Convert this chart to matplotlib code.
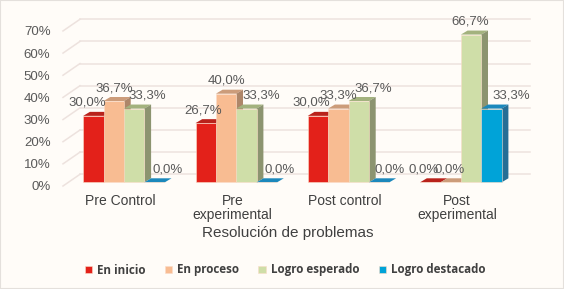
import numpy as np
import matplotlib
matplotlib.use('Agg')
import matplotlib.pyplot as plt
from matplotlib.patches import Polygon, Rectangle
from matplotlib.transforms import ScaledTranslation

categories = ['Pre Control', 'Pre\nexperimental', 'Post control', 'Post\nexperimental']
en_inicio = [30.0, 26.7, 30.0, 0.0]
en_proceso = [36.7, 40.0, 33.3, 0.0]
logro_esperado = [33.3, 33.3, 36.7, 66.7]
logro_destacado = [0.0, 0.0, 0.0, 33.3]
series_names = ['En inicio', 'En proceso', 'Logro esperado', 'Logro destacado']
y_ticks = [0, 10, 20, 30, 40, 50, 60, 70]

# front, top, side colours per series
front_cols = ['#E3211A', '#F8BC92', '#CFDEA8', '#00A3D8']
top_cols = ['#B9221B', '#CC9C7A', '#A3B27E', '#1B88BC']
side_cols = ['#A81F19', '#AE8669', '#8C9470', '#256E96']

# label nudges in pixels (dx from bar centre), per group and series
nudge_x = [[-6.5, 0, 13, 12.7],
           [-2.5, 0, 15, 13],
           [-7, 0, 14, 10],
           [-6.8, -1, -1, 19.5]]

W, H = 564, 289
TXT = '#595959'
plt.rcParams['font.family'] = ['Liberation Sans', 'DejaVu Sans']

fig = plt.figure(figsize=(W / 100, H / 100), dpi=100, facecolor='#FFFCF8')
fig.add_artist(Rectangle((0, 0), 1, 1, transform=fig.transFigure, fill=False,
                         edgecolor='#E4E0DC', linewidth=1.5))

# axes box: 0% front of the bars at y=182.3px, 70% 155px higher
left, right, bottom, top = 63, 530, 182.3, 27.25
ax = fig.add_axes([left / W, 1 - bottom / H, (right - left) / W, (bottom - top) / H])
ax.patch.set_alpha(0)
step = 112.3
x0, x1 = (left - 124) / step, (right - 124) / step
ax.set_xlim(x0, x1)
ax.set_ylim(0, 70)
px = 1 / step
py = 70 / (bottom - top)

# back wall and the side diagonals
for t in y_ticks:
    yb = t + 8 * py
    ax.plot([x0 + 17 * px, x1], [yb, yb], color='#EDE2DE', lw=1.1, zorder=1, clip_on=False)
    ax.plot([x0, x0 + 17 * px], [t - 3.7 * py, yb], color='#EDE2DE', lw=1.1, zorder=1,
            clip_on=False)

x = np.arange(len(categories))
w = 20.4 * px
dx = 6.7 * px
dy = 4 * py
all_series = [en_inicio, en_proceso, logro_esperado, logro_destacado]

handles = []
for s, vals in enumerate(all_series):
    xs = x + (s - 1.5) * w
    z = 3 + s
    bars = ax.bar(xs, vals, w, color=front_cols[s], zorder=z + 0.5, clip_on=False,
                  label=series_names[s], edgecolor='#FBDCC8', linewidth=0.4)
    handles.append(bars)
    for g, (xc, v) in enumerate(zip(xs, vals)):
        l, r = xc - w / 2, xc + w / 2
        ax.add_patch(Polygon([(l, v), (l + dx, v + dy), (r + dx, v + dy), (r, v)],
                             closed=True, fc=top_cols[s], ec='none', zorder=z, clip_on=False))
        ax.add_patch(Polygon([(r, 0), (r + dx, dy), (r + dx, v + dy), (r, v)],
                             closed=True, fc=side_cols[s], ec='none', zorder=z, clip_on=False))
        ax.annotate(f'{v:.1f}%'.replace('.', ','), xy=(xc, v),
                    xytext=(nudge_x[g][s] * 0.72, 13 * 0.72), textcoords='offset points',
                    ha='center', va='center', fontsize=9.5, color=TXT, zorder=10,
                    annotation_clip=False)

for sp in ax.spines.values():
    sp.set_visible(False)

ax.set_xticks(x, categories)
ax.set_yticks(y_ticks, [f'{t}%' for t in y_ticks])
ax.tick_params(axis='both', length=0, labelsize=9.5, labelcolor=TXT)
ax.tick_params(axis='x', labelsize=10, pad=8.5)
ax.tick_params(axis='y', pad=9)
# labels sit on the front plane of the 3d box, not on the bar plane
shift_y = ScaledTranslation(0, -3.7 / 100, fig.dpi_scale_trans)
shift_x = ScaledTranslation(-4 / 100, 0, fig.dpi_scale_trans)
for lab in ax.get_yticklabels():
    lab.set_transform(lab.get_transform() + shift_y)
for lab in ax.get_xticklabels():
    lab.set_transform(lab.get_transform() + shift_x)
    lab.set_linespacing(1.0)
    lab.set_color('#404040')

fig.text(287.7 / W, 1 - 232.8 / H, 'Resolución de problemas', ha='center', va='center',
         fontsize=11, color='#404040')

leg = fig.legend(handles=handles, loc='center', bbox_to_anchor=(285 / W, 1 - 270 / H),
                 ncol=4, frameon=False, handlelength=0.65, handleheight=0.6, handletextpad=0.4,
                 columnspacing=1.67, prop={'family': 'Open Sans', 'weight': 'bold', 'size': 8.4},
                 labelcolor='#404040')

fig.savefig('out.png', dpi=100)
